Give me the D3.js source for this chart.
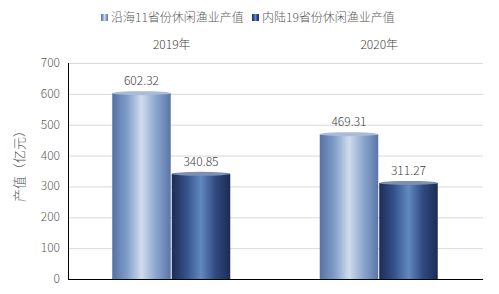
<!DOCTYPE html>
<html>
<head>
<meta charset="utf-8">
<script src="https://cdn.jsdelivr.net/npm/d3@7"></script>
<style>
  body { margin: 0; background: #fff; }
  text { font-family: "Noto Sans CJK SC", "Microsoft YaHei", sans-serif; font-weight: 300; }
</style>
</head>
<body>
<svg id="chart" width="499" height="294"></svg>
<script>
// chart data
var years = ["2019年", "2020年"];
var seriesNames = ["沿海11省份休闲渔业产值", "内陆19省份休闲渔业产值"];
var coastal = [602.32, 469.31];
var inland = [340.85, 311.27];
var yTicks = [0, 100, 200, 300, 400, 500, 600, 700];

var svg = d3.select("#chart");
var plotLeft = 68, plotRight = 483, plotTop = 63, plotBottom = 279;

var x0 = d3.scaleBand().domain(years).range([plotLeft, plotRight]);
var x1 = d3.scaleBand().domain([0, 1]).range([0, 119]);
var y = d3.scaleLinear().domain([0, 700]).range([plotBottom, plotTop]);

// gradients for the cylinder look
var defs = svg.append("defs");
var grads = [
  ["g0", ["#5671a3", "#7f9cc8", "#cfdcec", "#8aa5cc", "#5a76a8"]],
  ["g1", ["#1e2c55", "#34518a", "#6288c0", "#2f4a80", "#1d2b55"]]
];
grads.forEach(function(g) {
  let lg = defs.append("linearGradient").attr("id", g[0]).attr("x1", "0%").attr("x2", "100%");
  g[1].forEach(function(c, i) {
    lg.append("stop").attr("offset", (i / (g[1].length - 1) * 100) + "%").attr("stop-color", c);
  });
});

// gridlines
svg.append("g").selectAll("line").data(yTicks.slice(1)).join("line")
  .attr("x1", plotLeft).attr("x2", plotRight)
  .attr("y1", d => y(d) + 0.5).attr("y2", d => y(d) + 0.5)
  .attr("stroke", "#d9d9d9").attr("stroke-width", 1);

// y axis labels
svg.append("g").selectAll("text").data(yTicks).join("text")
  .attr("x", 60).attr("y", d => y(d) + 4)
  .attr("text-anchor", "end").attr("font-size", 12).attr("fill", "#595959")
  .text(d => d);

svg.append("line").attr("x1", plotLeft + 0.5).attr("x2", plotLeft + 0.5)
  .attr("y1", plotTop).attr("y2", plotBottom).attr("stroke", "#000");

svg.append("text")
  .attr("transform", "translate(24,163) rotate(-90)")
  .attr("text-anchor", "middle").attr("font-size", 13).attr("fill", "#595959")
  .text("产值（亿元）");

// bars
var series = [coastal, inland];
series.forEach(function(vals, s) {
  let g = svg.append("g");
  let bw = x1.bandwidth();
  let bx = (d, i) => x0(years[i]) + (x0.bandwidth() - 119) / 2 + x1(s);
  g.selectAll("rect").data(vals).join("rect")
    .attr("x", (d, i) => bx(d, i))
    .attr("y", d => y(d))
    .attr("width", bw - 1)
    .attr("height", d => plotBottom - y(d))
    .attr("fill", "url(#g" + s + ")");
  g.selectAll("ellipse").data(vals).join("ellipse")
    .attr("cx", (d, i) => bx(d, i) + (bw - 1) / 2)
    .attr("cy", d => y(d))
    .attr("rx", (bw - 1) / 2).attr("ry", 2)
    .attr("fill", s == 0 ? "#a9bbd8" : "#7d8fb3");
  g.selectAll("text").data(vals).join("text")
    .attr("x", (d, i) => bx(d, i) + (bw - 1) / 2)
    .attr("y", d => y(d) - 8)
    .attr("text-anchor", "middle").attr("font-size", 12).attr("fill", "#404040")
    .text(d => d.toFixed(2));
});

// baseline
svg.append("line").attr("x1", plotLeft).attr("x2", plotRight)
  .attr("y1", plotBottom + 0.5).attr("y2", plotBottom + 0.5).attr("stroke", "#000");

// category labels on top
svg.append("g").selectAll("text").data(years).join("text")
  .attr("x", d => x0(d) + x0.bandwidth() / 2).attr("y", 49)
  .attr("text-anchor", "middle").attr("font-size", 12).attr("fill", "#404040")
  .text(d => d);

// legend
var legX = [101, 252];
seriesNames.forEach(function(n, i) {
  svg.append("rect").attr("x", legX[i]).attr("y", 14).attr("width", 7).attr("height", 7)
    .attr("fill", "url(#g" + i + ")");
  svg.append("text").attr("x", legX[i] + 10).attr("y", 22)
    .attr("font-size", 12).attr("fill", "#595959").text(n);
});
</script>
</body>
</html>
